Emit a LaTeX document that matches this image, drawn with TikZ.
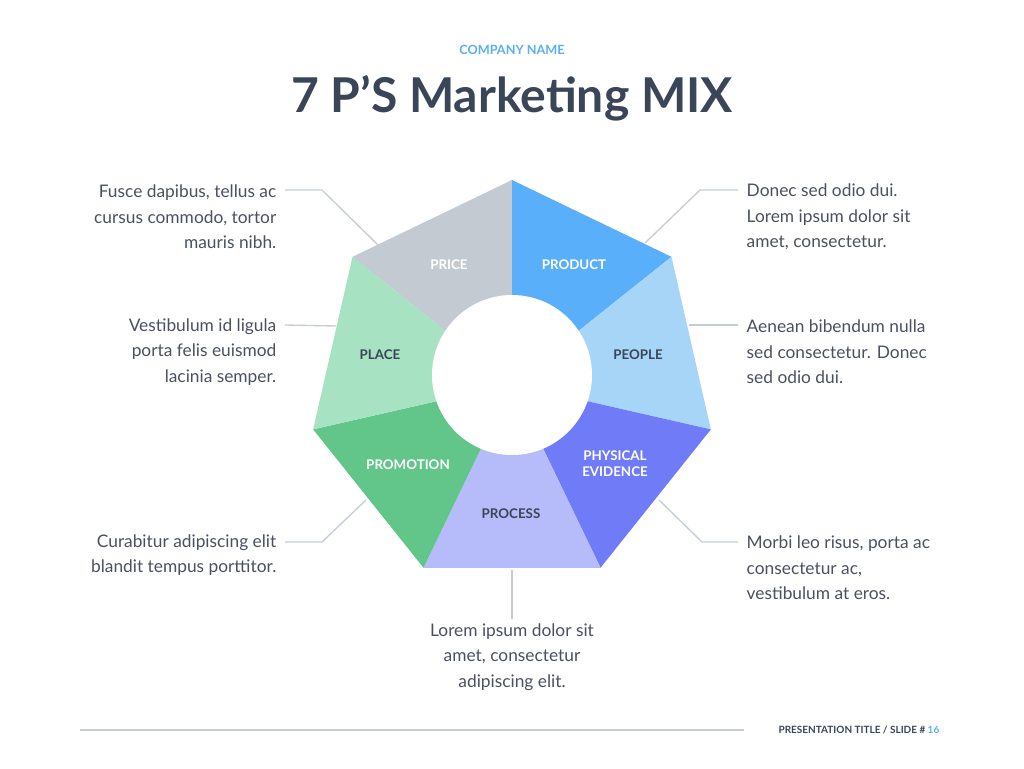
\documentclass[tikz,border=0pt]{standalone}
\usepackage{fontspec}
\setmainfont{Lato}
\definecolor{titlecol}{HTML}{3A4558}
\definecolor{bodycol}{HTML}{4A5060}
\definecolor{accent}{HTML}{5AAFF0}
\definecolor{linecol}{HTML}{C5CCD3}
\definecolor{cprice}{HTML}{C3CAD2}
\definecolor{cproduct}{HTML}{5AAFFA}
\definecolor{cpeople}{HTML}{A7D5F8}
\definecolor{cphys}{HTML}{6F7BF7}
\definecolor{cprocess}{HTML}{B6BBF9}
\definecolor{cpromo}{HTML}{62C58A}
\definecolor{cplace}{HTML}{A7E2C3}
\tikzset{
  seglabel/.style={font=\fontsize{10}{12}\selectfont\bfseries, align=center},
  bodytext/.style={font=\fontsize{13}{19}\selectfont, text=bodycol},
  leader/.style={draw=linecol, line width=1pt}
}
\begin{document}
\begin{tikzpicture}[x=0.75pt,y=-0.75pt]
\useasboundingbox (0,0) rectangle (1024,768);

% heptagon wedges
\foreach \a/\b/\col in {90/141.43/cprice, 38.57/90/cproduct, -12.86/38.57/cpeople,
  -64.29/-12.86/cphys, -115.71/-64.29/cprocess, -167.14/-115.71/cpromo, -218.57/-167.14/cplace}
  \fill[\col] (512,384) -- ({512+204*cos(\a)},{384-204*sin(\a)}) -- ({512+204*cos(\b)},{384-204*sin(\b)}) -- cycle;
\fill[white] (512,375) circle (80);

% segment labels
\node[seglabel, text=white] (price) at (449,265) {PRICE};
\node[seglabel, text=white] (product) at (574,265) {PRODUCT};
\node[seglabel, text=titlecol] (people) at (638,355) {PEOPLE};
\node[seglabel, text=white] (phys) at (615,464) {PHYSICAL\\EVIDENCE};
\node[seglabel, text=titlecol] (process) at (511,514) {PROCESS};
\node[seglabel, text=white] (promo) at (408,465) {PROMOTION};
\node[seglabel, text=titlecol] (place) at (380,355) {PLACE};

% header
\node[font=\fontsize{9.5}{11}\selectfont\bfseries, text=accent] (company) at (512,50) {COMPANY NAME};
\node[font=\fontsize{36}{40}\selectfont\bfseries, text=titlecol] (title) at (512,98) {7 P’S Marketing MIX};

% descriptions
\node[bodytext, align=right, anchor=east] (tl) at (281,217) {Fusce dapibus, tellus ac\\cursus commodo, tortor\\mauris nibh.};
\node[bodytext, align=right, anchor=east] (ml) at (281,352) {Vestibulum id ligula\\porta felis euismod\\lacinia semper.};
\node[bodytext, align=right, anchor=east] (bl) at (281,555) {Curabitur adipiscing elit\\blandit tempus porttitor.};
\node[bodytext, align=left, anchor=west] (tr) at (742,217) {Donec sed odio dui.\\Lorem ipsum dolor sit\\amet, consectetur.};
\node[bodytext, align=left, anchor=west] (mr) at (742,352) {Aenean bibendum nulla\\sed consectetur. Donec\\sed odio dui.};
\node[bodytext, align=left, anchor=west] (br) at (742,568) {Morbi leo risus, porta ac\\consectetur ac,\\vestibulum at eros.};
\node[bodytext, align=center] (bc) at (512,657) {Lorem ipsum dolor sit\\amet, consectetur\\adipiscing elit.};

% leaders
\coordinate (etl) at (378,245);
\coordinate (etr) at (645,243);
\coordinate (eml) at (336,326);
\coordinate (emr) at (689,325);
\coordinate (ebl) at (366,500);
\coordinate (ebr) at (659,500);
\coordinate (ebc) at (512,570);
\draw[leader] (etl) -- (322,190) -- (285,190);
\draw[leader] (etr) -- (700,190) -- (738,190);
\draw[leader] (eml) -- (285,325);
\draw[leader] (emr) -- (738,325);
\draw[leader] (ebl) -- (322,542) -- (285,542);
\draw[leader] (ebr) -- (702,542) -- (738,542);
\draw[leader] (ebc) -- (bc.north);

% footer
\coordinate (fl) at (80,730);
\node[font=\fontsize{7.5}{9}\selectfont\bfseries, text=titlecol, anchor=east] (foot) at (944,730) {PRESENTATION TITLE / SLIDE \# \textcolor{accent}{16}};
\draw[leader] (fl) -- (744,730);
\end{tikzpicture}
\end{document}
